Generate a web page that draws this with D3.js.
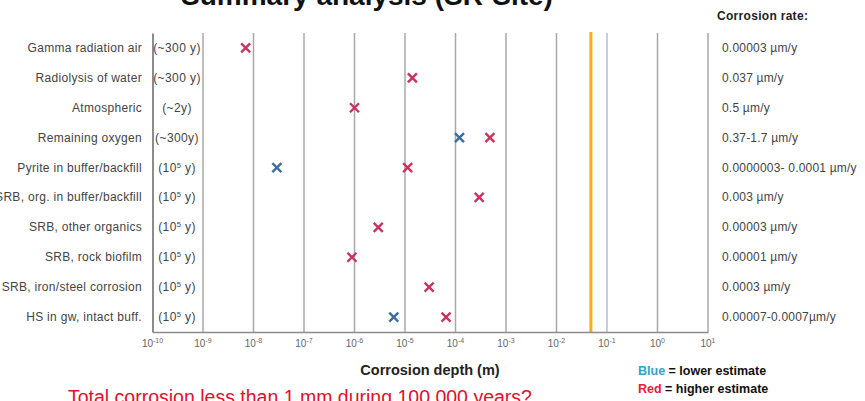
<!DOCTYPE html>
<html>
<head>
<meta charset="utf-8">
<script src="https://cdn.jsdelivr.net/npm/d3@7"></script>
<style>
  html, body { margin: 0; padding: 0; background: #fff; }
  svg { display: block; }
  text { font-family: "Liberation Sans", Arial, sans-serif; }
</style>
</head>
<body>
<svg id="chart" width="865" height="401"></svg>
<script>
// ---------- data ----------
const categories = [
  "Gamma radiation air",
  "Radiolysis of water",
  "Atmospheric",
  "Remaining oxygen",
  "Pyrite in buffer/backfill",
  "SRB, org. in buffer/backfill",
  "SRB, other organics",
  "SRB, rock biofilm",
  "SRB, iron/steel corrosion",
  "HS in gw, intact buff."
];
const durations = [
  ["(~300 y)", null], ["(~300 y)", null], ["(~2y)", null], ["(~300y)", null],
  ["(10", "5"], ["(10", "5"], ["(10", "5"], ["(10", "5"], ["(10", "5"], ["(10", "5"]
];
const rates = [
  "0.00003 \u00b5m/y",
  "0.037 \u00b5m/y",
  "0.5 \u00b5m/y",
  "0.37-1.7 \u00b5m/y",
  "0.0000003- 0.0001 \u00b5m/y",
  "0.003 \u00b5m/y",
  "0.00003 \u00b5m/y",
  "0.00001 \u00b5m/y",
  "0.0003 \u00b5m/y",
  "0.00007-0.0007\u00b5m/y"
];
// lower estimate (blue), null where none shown
const lowerEstimate = [null, null, null, 1.2e-4, 2.9e-8, null, null, null, null, 6.0e-6];
// higher estimate (red)
const higherEstimate = [7e-9, 1.4e-5, 1.0e-6, 4.8e-4, 1.13e-5, 2.95e-4, 2.95e-6, 8.9e-7, 3.0e-5, 6.5e-5];
const tickExponents = [-10, -9, -8, -7, -6, -5, -4, -3, -2, -1, 0, 1];
const corrosionAllowance = 0.048; // orange reference line (m)

// ---------- layout ----------
const svg = d3.select("#chart");
const plot = { left: 152.5, right: 708, top: 33, bottom: 332 };

const x = d3.scaleLog().domain([1e-10, 10]).range([plot.left, plot.right]);
const y = d3.scaleBand().domain(categories).range([plot.top, plot.bottom]);

// Title (cut off at top edge, as in the reference)
svg.append("text")
  .attr("x", 181).attr("y", 5)
  .attr("font-size", 28).attr("font-weight", "bold").attr("fill", "#111")
  .text("Summary analysis (SR-Site)");

// gridlines
const gridTicks = tickExponents.slice(1).map(e => Math.pow(10, e));
svg.append("g").selectAll("line").data(gridTicks).join("line")
  .attr("x1", d => x(d)).attr("x2", d => x(d))
  .attr("y1", plot.top).attr("y2", plot.bottom)
  .attr("stroke", d => Math.abs(Math.log10(d) + 1) < 1e-9 ? "#b4bcd6" : "#a8a8a8")
  .attr("stroke-width", 1.5);

// orange line
svg.append("line")
  .attr("x1", x(corrosionAllowance)).attr("x2", x(corrosionAllowance))
  .attr("y1", plot.top - 1).attr("y2", plot.bottom)
  .attr("stroke", "#f7ad19").attr("stroke-width", 3);

// axes
const xAxis = d3.axisBottom(x).tickValues([]).tickSizeOuter(0);
const gx = svg.append("g").attr("transform", `translate(0,${plot.bottom})`).call(xAxis);
gx.select(".domain").attr("stroke", "#8c8c8c").attr("stroke-width", 1.5);
const yAxis = d3.axisLeft(y).tickValues([]).tickSizeOuter(0);
const gy = svg.append("g").attr("transform", `translate(${plot.left},0)`).call(yAxis);
gy.select(".domain").attr("stroke", "#8c8c8c").attr("stroke-width", 2);

// tick labels with superscripts
const tl = svg.append("g").selectAll("text").data(tickExponents).join("text")
  .attr("x", d => x(Math.pow(10, d)))
  .attr("y", 347)
  .attr("text-anchor", "middle")
  .attr("font-size", 10).attr("fill", "#666");
tl.append("tspan").text("10");
tl.append("tspan").attr("dy", -4).attr("font-size", 7).text(d => d);

// axis title
svg.append("text")
  .attr("x", 430).attr("y", 375)
  .attr("text-anchor", "middle")
  .attr("font-family", "'Open Sans', sans-serif")
  .attr("font-size", 14.5).attr("font-weight", "bold").attr("fill", "#222")
  .text("Corrosion depth (m)");

// category labels
svg.append("g").selectAll("text").data(categories).join("text")
  .attr("x", 142)
  .attr("y", d => y(d) + y.bandwidth() / 2 + 4)
  .attr("text-anchor", "end")
  .attr("font-size", 12).attr("letter-spacing", 0.3).attr("fill", "#444")
  .text(d => d);

// duration labels
const dl = svg.append("g").selectAll("text").data(durations).join("text")
  .attr("x", 177)
  .attr("y", (d, i) => y(categories[i]) + y.bandwidth() / 2 + 4)
  .attr("text-anchor", "middle")
  .attr("font-size", 12).attr("letter-spacing", 0.4).attr("fill", "#444");
dl.each(function(d) {
  const t = d3.select(this);
  if (d[1] === null) { t.text(d[0]); }
  else {
    t.append("tspan").text(d[0]);
    t.append("tspan").attr("dy", -4).attr("font-size", 7.5).text(d[1]);
    t.append("tspan").attr("dy", 4).text(" y)");
  }
});

// rates
svg.append("text")
  .attr("x", 717).attr("y", 20)
  .attr("font-size", 12).attr("font-weight", "bold").attr("letter-spacing", 0.3).attr("fill", "#222")
  .text("Corrosion rate:");
svg.append("g").selectAll("text").data(rates).join("text")
  .attr("x", 722)
  .attr("y", (d, i) => y(categories[i]) + y.bandwidth() / 2 + 4)
  .attr("font-size", 12).attr("letter-spacing", 0.2).attr("fill", "#444")
  .text(d => d);

// markers
function cross(g, data, color) {
  const pts = data.map((v, i) => ({ v, c: categories[i] })).filter(p => p.v !== null);
  const s = 4.5;
  const grp = g.selectAll("g").data(pts).join("g")
    .attr("transform", p => `translate(${x(p.v)},${y(p.c) + y.bandwidth() / 2})`);
  grp.append("line").attr("x1", -s).attr("y1", -s).attr("x2", s).attr("y2", s)
    .attr("stroke", color).attr("stroke-width", 2.4);
  grp.append("line").attr("x1", -s).attr("y1", s).attr("x2", s).attr("y2", -s)
    .attr("stroke", color).attr("stroke-width", 2.4);
}
cross(svg.append("g"), lowerEstimate, "#3d6f9e");
cross(svg.append("g"), higherEstimate, "#c73560");

// legend
const lg1 = svg.append("text").attr("x", 638).attr("y", 375)
  .attr("font-family", "'Open Sans', sans-serif")
  .attr("font-size", 12.5).attr("font-weight", "bold").attr("fill", "#111");
lg1.append("tspan").attr("fill", "#2fa5c9").text("Blue");
lg1.append("tspan").text(" = lower estimate");
const lg2 = svg.append("text").attr("x", 638).attr("y", 393)
  .attr("font-family", "'Open Sans', sans-serif")
  .attr("font-size", 12.5).attr("font-weight", "bold").attr("fill", "#111");
lg2.append("tspan").attr("fill", "#e0203a").text("Red");
lg2.append("tspan").text(" = higher estimate");

// bottom red statement (cut off at bottom, as in the reference)
svg.append("text")
  .attr("x", 68).attr("y", 404)
  .attr("font-size", 19.5).attr("fill", "#e0102e")
  .text("Total corrosion less than 1 mm during 100 000 years?");
</script>
</body>
</html>
